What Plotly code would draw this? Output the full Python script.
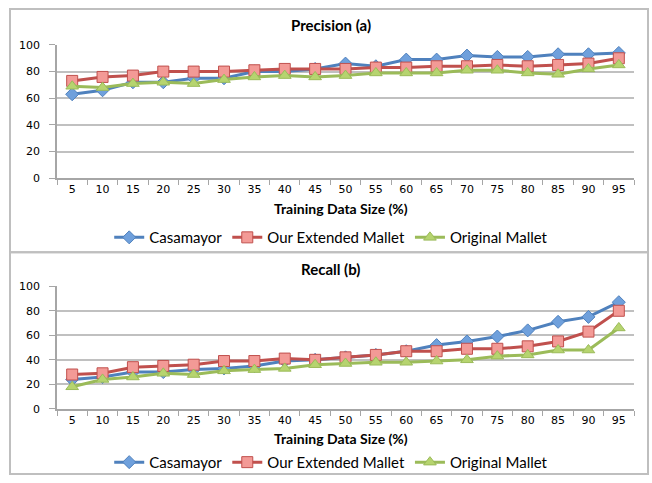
import plotly.graph_objects as go

sizes = [5, 10, 15, 20, 25, 30, 35, 40, 45, 50, 55, 60, 65, 70, 75, 80, 85, 90, 95]
categories = [str(s) for s in sizes]

prec_casamayor = [63, 66, 72, 72, 75, 75, 80, 80, 82, 86, 84, 89, 89, 92, 91, 91, 93, 93, 94]
prec_extended = [73, 76, 77, 80, 80, 80, 81, 82, 82, 82, 83, 83, 84, 84, 85, 84, 85, 86, 90]
prec_original = [69, 68, 71, 72, 71, 74, 76, 77, 76, 77, 79, 79, 79, 81, 81, 79, 78, 82, 85]

rec_casamayor = [24, 26, 30, 30, 32, 33, 35, 39, 40, 42, 44, 47, 52, 55, 59, 64, 71, 75, 87]
rec_extended = [28, 29, 34, 35, 36, 39, 39, 41, 40, 42, 44, 47, 47, 49, 49, 51, 55, 63, 80]
rec_original = [18, 24, 26, 29, 28, 31, 32, 33, 36, 37, 38, 38, 39, 40, 43, 44, 48, 48, 66]

series_names = ["Casamayor", "Our Extended Mallet", "Original Mallet"]
line_colors = ["#4f81bd", "#c0504d", "#9bbb59"]
fill_colors = ["#6fa0dc", "#f39a96", "#b6d46f"]
symbols = ["diamond", "square", "triangle-up"]
sizes_mk = [10, 11, 11]

W, H = 652, 483
def px_x(x):
    return x / W
def px_y(y):
    return 1 - y / H

fig = go.Figure()

panels = [
    ([prec_casamayor, prec_extended, prec_original], "x", "y", "legend"),
    ([rec_casamayor, rec_extended, rec_original], "x2", "y2", "legend2"),
]
for data, xa, ya, lg in panels:
    for i, vals in enumerate(data):
        fig.add_trace(go.Scatter(
            x=categories, y=vals, name=series_names[i], mode="lines+markers",
            xaxis=xa, yaxis=ya, legend=lg,
            line=dict(color=line_colors[i], width=3),
            marker=dict(symbol=symbols[i], size=sizes_mk[i], color=fill_colors[i],
                        line=dict(color=line_colors[i], width=1)),
        ))

grid = "#c0c0c0"
tickfont = dict(family="DejaVu Sans", size=11, color="#000000")
xdom = [px_x(57), px_x(634)]
common_x = dict(type="category", range=[-0.5, len(categories) - 0.5],
                showgrid=False, showline=True, linecolor="#a6a6a6",
                linewidth=1.5, ticks="outside", tickson="boundaries", ticklen=5,
                tickcolor="#a6a6a6", tickfont=tickfont, domain=xdom, fixedrange=True)
common_y = dict(range=[0, 100], dtick=20, showgrid=True, gridcolor=grid, gridwidth=1.5,
                showline=True, linecolor="#a6a6a6", linewidth=1.5, ticks="outside",
                ticklen=6, tickcolor="#a6a6a6", tickfont=tickfont, zeroline=False,
                ticklabelstandoff=7, fixedrange=True)

legend_font = dict(family="Lato", size=15, color="#000000")
fig.update_layout(
    width=W, height=H, margin=dict(l=0, r=0, t=0, b=0),
    paper_bgcolor="white", plot_bgcolor="white",
    xaxis=dict(**common_x, anchor="y"),
    yaxis=dict(**common_y, domain=[px_y(177), px_y(40)], anchor="x"),
    xaxis2=dict(**common_x, anchor="y2"),
    yaxis2=dict(**common_y, domain=[px_y(414), px_y(288)], anchor="x2"),
    legend=dict(orientation="h", x=0.508, xanchor="center", y=px_y(238), yanchor="middle",
                font=legend_font, itemwidth=30, bgcolor="rgba(0,0,0,0)"),
    legend2=dict(orientation="h", x=0.508, xanchor="center", y=px_y(469), yanchor="middle",
                 font=legend_font, itemwidth=30, bgcolor="rgba(0,0,0,0)"),
    showlegend=True,
)

title_font = dict(family="Lato", size=15, color="#000000")
axis_font = dict(family="Lato", size=14, color="#000000")
annots = [
    ("<b>Precision (a)</b>", 20, title_font, 331),
    ("<b>Training Data Size (%)</b>", 208, axis_font, 341),
    ("<b>Recall (b)</b>", 270, title_font, 331),
    ("<b>Training Data Size (%)</b>", 444, axis_font, 341),
]
for text, y, f, xc in annots:
    fig.add_annotation(text=text, xref="paper", yref="paper", x=px_x(xc), y=px_y(y),
                       xanchor="center", yanchor="middle", showarrow=False, font=f)

border = "#bfbfbf"
fig.add_shape(type="rect", xref="paper", yref="paper", x0=px_x(10), x1=px_x(648),
              y0=px_y(253), y1=px_y(3), line=dict(color=border, width=2))
fig.add_shape(type="rect", xref="paper", yref="paper", x0=px_x(10), x1=px_x(648),
              y0=px_y(481), y1=px_y(253), line=dict(color=border, width=2))

fig.write_html("out.html", config={"displayModeBar": False})
with open("out.html", encoding="utf-8") as fh:
    html = fh.read()
html = html.replace("<head>", "<head><style>html,body{margin:0;padding:0;overflow:hidden;}</style>", 1)
with open("out.html", "w", encoding="utf-8") as fh:
    fh.write(html)
